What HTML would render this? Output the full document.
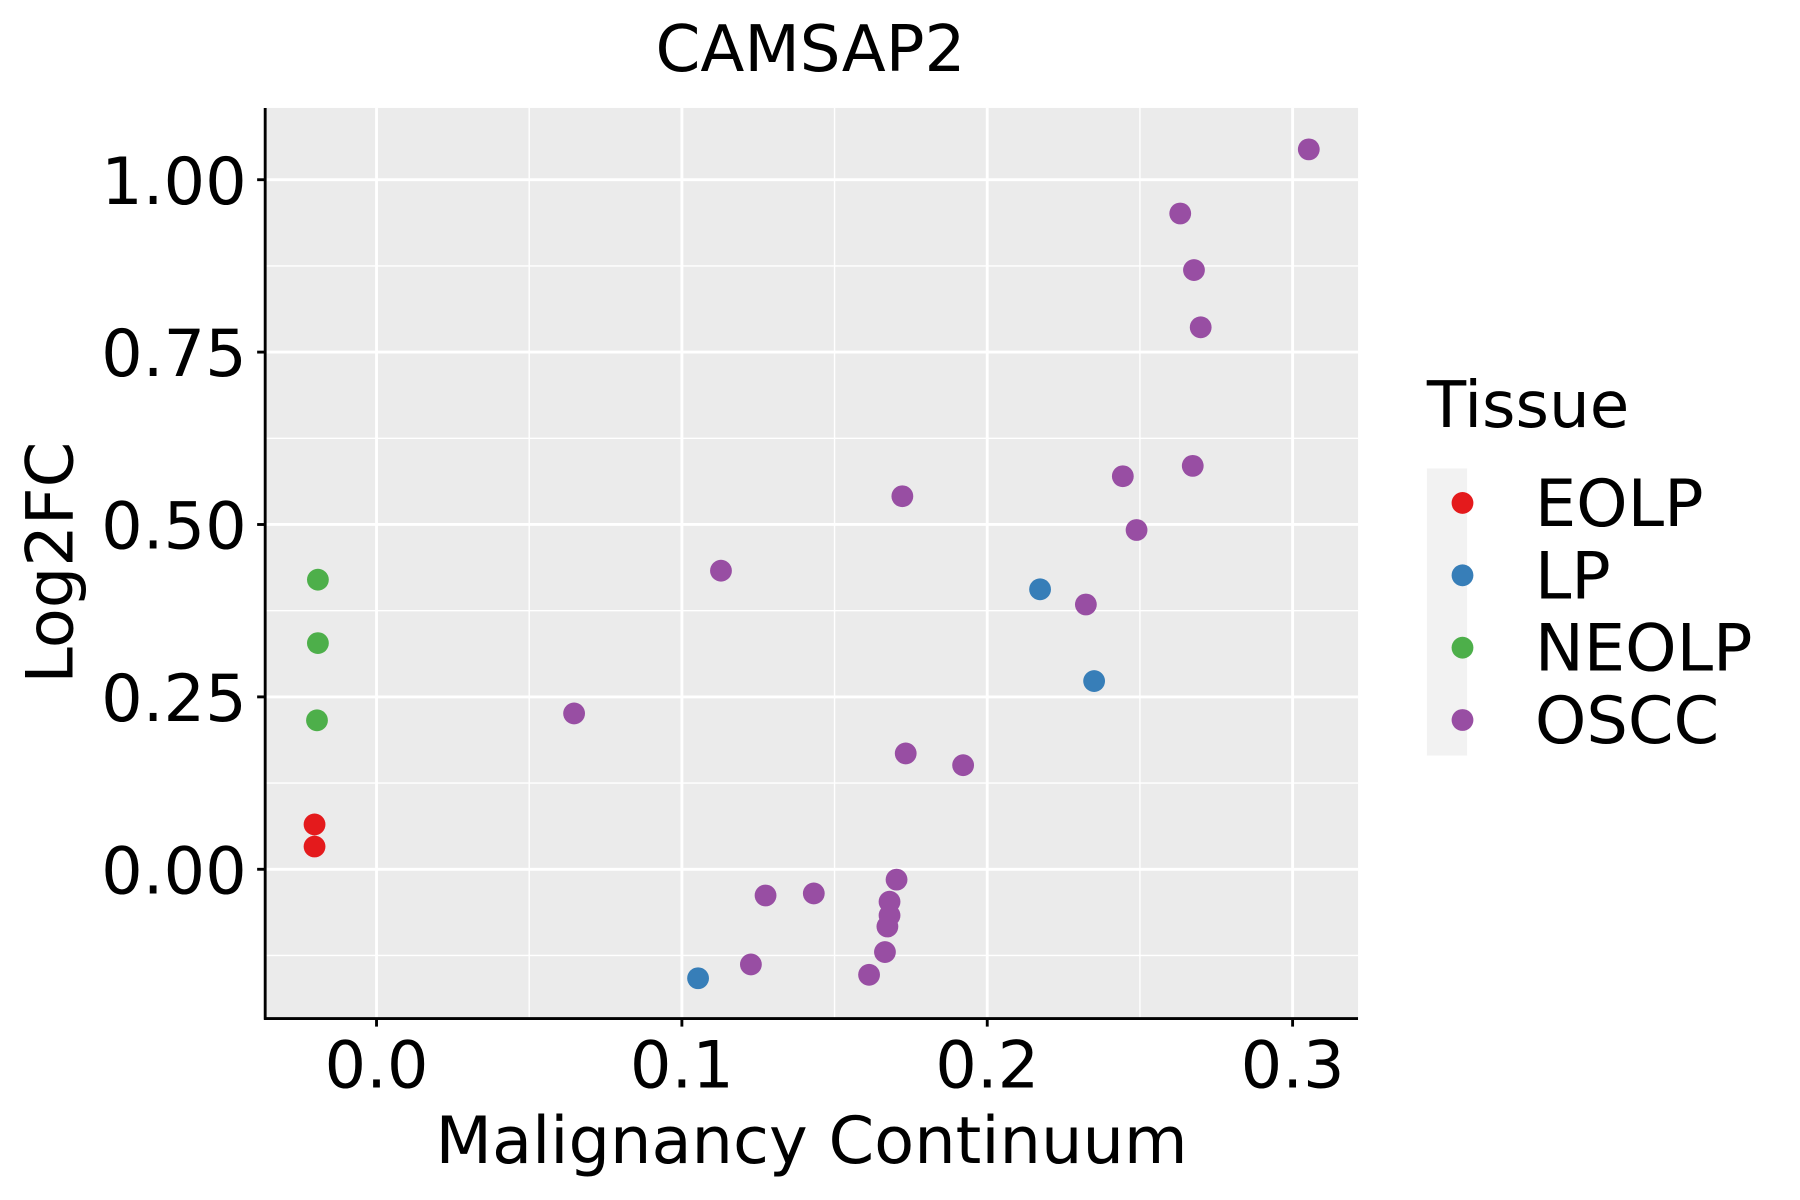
<!DOCTYPE html>
<html><head><meta charset="utf-8"><style>
html,body{margin:0;padding:0;background:#fff;}
svg{display:block;font-family:"DejaVu Sans","Liberation Sans",sans-serif;}
</style></head><body>
<svg id="chart" width="1800" height="1200" viewBox="0 0 1568 1045" preserveAspectRatio="none" xmlns="http://www.w3.org/2000/svg">
<text x="706" y="62" font-size="56" text-anchor="middle">CAMSAP2</text>
<rect x="231" y="94" width="952" height="793" fill="#ebebeb"/>
<g id="grid"></g>
<g id="points"></g>
<line x1="231" y1="94" x2="231" y2="888" stroke="#000" stroke-width="2.5"/>
<line x1="230" y1="887" x2="1183" y2="887" stroke="#000" stroke-width="2.5"/>
<g id="ticks"></g>
<text x="707" y="1013" font-size="57" text-anchor="middle">Malignancy Continuum</text>
<text transform="translate(63,490) rotate(-90)" font-size="57" text-anchor="middle">Log2FC</text>
<text x="1243" y="372" font-size="56">Tissue</text>
<rect x="1243" y="408" width="35" height="250" fill="#f2f2f2"/>
<g id="legend"></g>
</svg>
<script>
const categories = ["EOLP","LP","NEOLP","OSCC"];
const colors = ["#e41a1c","#377eb8","#4daf4a","#984ea3"];
const xTicks = [0.0,0.1,0.2,0.3];
const xTickLabels = ["0.0","0.1","0.2","0.3"];
const yTicks = [0.0,0.25,0.5,0.75,1.0];
const yTickLabels = ["0.00","0.25","0.50","0.75","1.00"];
const eolpX = [-0.0203,-0.0203];
const eolpY = [0.065,0.033];
const lpX = [0.1053,0.2173,0.2350];
const lpY = [-0.158,0.406,0.273];
const neolpX = [-0.0192,-0.0192,-0.0195];
const neolpY = [0.420,0.328,0.216];
const osccX = [0.3053,0.2632,0.2677,0.2699,0.2673,0.2444,0.2489,0.1722,0.1128,0.2323,0.0647,0.1733,0.1921,0.1703,0.1680,0.1680,0.1673,0.1665,0.1613,0.1432,0.1274,0.1226];
const osccY = [1.044,0.951,0.869,0.786,0.585,0.570,0.492,0.541,0.433,0.384,0.226,0.168,0.151,-0.015,-0.047,-0.067,-0.083,-0.120,-0.153,-0.035,-0.038,-0.138];

const NS="http://www.w3.org/2000/svg";
function xs(v){return 328+v*2660;}
function ys(v){return 757-v*600.5;}
function mk(tag,attrs,parent){const e=document.createElementNS(NS,tag);for(const k in attrs)e.setAttribute(k,attrs[k]);parent.appendChild(e);return e;}
const grid=document.getElementById('grid'), ticks=document.getElementById('ticks'), pts=document.getElementById('points'), leg=document.getElementById('legend');
[-0.125,0.125,0.375,0.625,0.875].forEach(v=>{const l=mk('line',{x1:231,x2:1183,y1:ys(v),y2:ys(v),stroke:'#fff','stroke-width':1.2},grid);

});
[0.05,0.15,0.25].forEach(v=>{const l=mk('line',{x1:xs(v),x2:xs(v),y1:94,y2:887,stroke:'#fff','stroke-width':1.2},grid);

});
yTicks.forEach((v,i)=>{const l=mk('line',{x1:231,x2:1183,y1:ys(v),y2:ys(v),stroke:'#fff','stroke-width':2.5},grid);


const t=mk('line',{x1:224,x2:231,y1:ys(v),y2:ys(v),stroke:'#000','stroke-width':2.5},ticks);


const tx=mk('text',{x:215,y:ys(v)+21,'font-size':57,'text-anchor':'end'},ticks);tx.textContent=yTickLabels[i];

});
xTicks.forEach((v,i)=>{const l=mk('line',{x1:xs(v),x2:xs(v),y1:94,y2:887,stroke:'#fff','stroke-width':2.5},grid);


const t=mk('line',{x1:xs(v),x2:xs(v),y1:887,y2:894,stroke:'#000','stroke-width':2.5},ticks);


const tx=mk('text',{x:xs(v),y:947,'font-size':57,'text-anchor':'middle'},ticks);tx.textContent=xTickLabels[i];

});
const series=[[eolpX,eolpY],[lpX,lpY],[neolpX,neolpY],[osccX,osccY]];
series.forEach((s,si)=>{s[0].forEach((x,j)=>{const c=mk('circle',{cx:xs(x),cy:ys(s[1][j]),r:9.5,fill:colors[si]},pts);

});});
categories.forEach((c,i)=>{const y=438+i*63;
const d=mk('circle',{cx:1274,cy:y,r:9.5,fill:colors[i]},leg);


const t=mk('text',{x:1337,y:y+20,'font-size':57},leg);t.textContent=c;

});
</script>
</body></html>
